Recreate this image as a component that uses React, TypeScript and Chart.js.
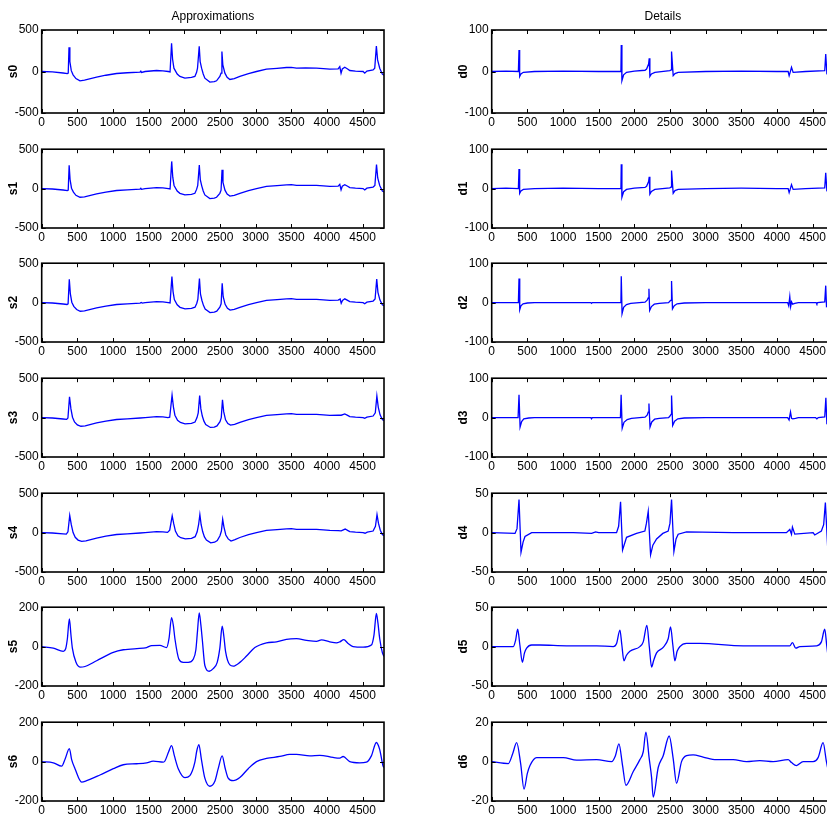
import React, { useEffect, useRef } from 'react';
import { Chart, registerables } from 'chart.js';

Chart.register(...registerables);

// ---------- data ----------
type Pt = [number, number];

const X_MAX = 4800;
const X_TICKS = [0, 500, 1000, 1500, 2000, 2500, 3000, 3500, 4000, 4500];

const TITLE_LEFT = 'Approximations';
const TITLE_RIGHT = 'Details';

const LEFT_LABELS = ['s0', 's1', 's2', 's3', 's4', 's5', 's6'];
const RIGHT_LABELS = ['d0', 'd1', 'd2', 'd3', 'd4', 'd5', 'd6'];

const LEFT_LIMITS = [500, 500, 500, 500, 500, 200, 200];
const RIGHT_LIMITS = [100, 100, 100, 100, 50, 50, 20];

const s0: Pt[] = [[0,0],[150,-5],[300,-18],[360,-25],[372,-20],[383,292],[395,120],[415,10],[440,-40],[480,-85],[537,-112],[600,-105],[770,-68],[900,-45],[1050,-24],[1200,-15],[1378,-8],[1390,5],[1400,-12],[1450,0],[1611,12],[1700,8],[1775,0],[1800,-5],[1821,340],[1835,150],[1854,40],[1900,-30],[1938,-60],[2008,-80],[2100,-72],[2148,-60],[2172,-10],[2185,40],[2209,304],[2222,120],[2242,40],[2265,-30],[2288,-80],[2358,-128],[2420,-122],[2452,-112],[2498,-60],[2515,-20],[2527,240],[2540,80],[2569,-20],[2600,-70],[2639,-96],[2700,-85],[2779,-60],[2900,-25],[3012,0],[3152,28],[3300,38],[3433,48],[3500,50],[3573,40],[3700,42],[3853,40],[3950,35],[4040,28],[4157,32],[4180,60],[4198,-20],[4215,30],[4250,52],[4290,30],[4320,12],[4400,5],[4507,0],[4530,-20],[4560,5],[4647,20],[4670,40],[4693,308],[4710,140],[4740,40],[4777,-32],[4800,-45]];

const s1: Pt[] = [[0,0],[150,-5],[300,-18],[360,-25],[372,-18],[385,295],[398,115],[418,5],[445,-45],[480,-85],[537,-110],[600,-104],[770,-68],[900,-45],[1050,-24],[1200,-15],[1378,-8],[1390,4],[1400,-10],[1450,0],[1611,12],[1700,8],[1775,0],[1800,-5],[1823,345],[1838,145],[1856,40],[1900,-30],[1938,-60],[2008,-80],[2100,-72],[2148,-60],[2172,-10],[2188,40],[2210,300],[2224,115],[2244,35],[2265,-30],[2288,-80],[2358,-126],[2420,-120],[2452,-110],[2498,-60],[2515,-20],[2529,240],[2542,78],[2570,-20],[2600,-70],[2639,-95],[2700,-85],[2779,-60],[2900,-25],[3012,0],[3152,28],[3300,38],[3433,48],[3500,50],[3573,40],[3700,42],[3853,40],[3950,35],[4040,28],[4157,32],[4180,55],[4198,-15],[4215,30],[4250,50],[4290,30],[4320,12],[4400,5],[4507,0],[4530,-18],[4560,5],[4647,20],[4672,40],[4695,305],[4712,135],[4740,40],[4777,-30],[4800,-42]];

const s2: Pt[] = [[0,0],[150,-5],[300,-18],[355,-24],[370,-15],[387,295],[402,110],[422,5],[450,-48],[490,-88],[540,-110],[600,-104],[770,-68],[900,-45],[1050,-24],[1200,-15],[1380,-6],[1395,2],[1410,-6],[1450,0],[1611,12],[1700,8],[1775,0],[1800,-4],[1826,330],[1842,140],[1860,38],[1900,-28],[1940,-60],[2010,-80],[2100,-72],[2150,-58],[2175,-8],[2190,45],[2212,305],[2226,110],[2246,30],[2268,-35],[2292,-82],[2360,-126],[2420,-120],[2455,-108],[2498,-58],[2516,-15],[2531,245],[2545,75],[2572,-22],[2605,-72],[2642,-95],[2700,-86],[2779,-60],[2900,-25],[3012,0],[3152,28],[3300,38],[3433,48],[3500,50],[3573,40],[3700,42],[3853,40],[3950,35],[4040,28],[4157,32],[4185,45],[4200,-8],[4218,28],[4250,48],[4290,28],[4320,12],[4400,5],[4507,0],[4530,-15],[4560,5],[4647,20],[4675,45],[4698,300],[4715,130],[4742,35],[4777,-28],[4800,-40]];

const s3: Pt[] = [[0,0],[150,-5],[300,-18],[350,-22],[368,-5],[390,265],[410,110],[432,5],[460,-55],[500,-92],[550,-110],[610,-104],[770,-68],[900,-45],[1050,-24],[1200,-15],[1380,-5],[1450,0],[1611,12],[1700,8],[1770,0],[1795,5],[1828,285],[1848,130],[1868,30],[1905,-35],[1945,-62],[2010,-80],[2100,-72],[2150,-56],[2178,0],[2195,60],[2215,280],[2232,110],[2252,20],[2275,-45],[2300,-88],[2365,-125],[2420,-120],[2458,-105],[2500,-52],[2518,0],[2535,225],[2552,75],[2578,-28],[2610,-75],[2648,-96],[2705,-86],[2779,-60],[2900,-25],[3012,0],[3152,28],[3300,38],[3433,48],[3500,50],[3573,40],[3700,42],[3853,40],[3950,35],[4040,28],[4157,32],[4200,30],[4250,46],[4290,28],[4320,12],[4400,5],[4507,0],[4530,-10],[4560,5],[4647,20],[4678,60],[4700,275],[4720,130],[4745,35],[4777,-25],[4800,-38]];

const s4: Pt[] = [[0,0],[150,-5],[300,-16],[345,-20],[368,10],[393,218],[415,100],[440,0],[470,-60],[510,-95],[560,-112],[620,-104],[770,-70],[900,-45],[1050,-24],[1200,-15],[1380,-5],[1450,0],[1611,12],[1700,8],[1765,2],[1795,30],[1830,212],[1852,110],[1875,20],[1910,-40],[1950,-65],[2015,-80],[2100,-72],[2152,-52],[2180,10],[2200,100],[2218,228],[2236,100],[2258,10],[2282,-55],[2310,-95],[2370,-130],[2425,-122],[2462,-100],[2500,-40],[2520,20],[2538,168],[2556,70],[2582,-30],[2615,-80],[2655,-108],[2710,-90],[2779,-62],[2900,-25],[3012,0],[3152,28],[3300,38],[3433,48],[3500,50],[3573,40],[3700,42],[3853,40],[3950,35],[4040,28],[4157,25],[4200,22],[4255,45],[4295,25],[4320,12],[4400,5],[4507,0],[4535,-8],[4565,5],[4647,20],[4680,80],[4702,228],[4722,120],[4748,30],[4777,-25],[4800,-38]];

const s5: Pt[] = [[0,0],[163,-8],[303,-24],[336,-11],[360,40],[388,141],[410,60],[430,-8],[481,-80],[537,-104],[607,-101],[770,-72],[1004,-29],[1144,-16],[1424,-8],[1471,-5],[1541,5],[1658,6],[1751,-5],[1785,40],[1821,147],[1845,110],[1868,40],[1924,-64],[1985,-80],[2055,-80],[2125,-64],[2162,-16],[2185,80],[2209,171],[2232,110],[2251,40],[2288,-96],[2349,-125],[2405,-112],[2461,-80],[2498,-8],[2531,104],[2555,50],[2578,-24],[2639,-93],[2685,-99],[2779,-80],[2872,-48],[2989,-5],[3152,19],[3292,24],[3432,37],[3573,40],[3713,32],[3853,27],[3923,34],[4040,24],[4133,19],[4180,24],[4236,35],[4296,16],[4366,0],[4507,-3],[4623,8],[4660,60],[4693,168],[4715,120],[4740,40],[4778,-32],[4800,-50]];

const s6: Pt[] = [[0,0],[163,-6],[280,-23],[330,15],[388,66],[420,10],[467,-36],[560,-104],[630,-97],[817,-68],[1004,-36],[1144,-16],[1331,-11],[1471,-6],[1564,2],[1705,-3],[1728,3],[1780,50],[1821,81],[1860,30],[1915,-36],[2008,-81],[2078,-71],[2148,-3],[2175,55],[2204,86],[2240,10],[2288,-84],[2358,-125],[2428,-100],[2475,-36],[2531,29],[2570,-30],[2615,-84],[2685,-97],[2779,-81],[2896,-36],[3012,0],[3152,16],[3339,26],[3479,37],[3573,37],[3760,29],[3900,32],[4087,21],[4180,18],[4227,26],[4320,0],[4460,-6],[4553,-3],[4623,29],[4693,97],[4740,61],[4787,-23],[4800,-30]];

const d0: Pt[] = [[0,0],[200,1],[374,0],[383,52],[392,-12],[410,-6],[444,-2],[600,0],[1000,1],[1500,0],[1812,0],[1817,64],[1826,-22],[1850,-8],[1891,-2],[2000,1],[2150,3],[2172,6],[2200,18],[2209,32],[2218,-12],[2240,-6],[2288,-2],[2498,2],[2517,4],[2522,48],[2545,-10],[2570,-5],[2615,-2],[3000,0],[3500,1],[4000,0],[4157,0],[4171,-10],[4185,-2],[4204,10],[4227,-2],[4400,0],[4670,2],[4684,42],[4700,-5],[4800,0]];

const d1: Pt[] = [[0,0],[200,1],[374,0],[383,50],[392,-12],[410,-6],[444,-2],[600,0],[1000,1],[1500,0],[1812,0],[1817,62],[1826,-22],[1850,-8],[1891,-2],[2000,1],[2150,3],[2172,6],[2200,18],[2209,30],[2218,-14],[2240,-7],[2288,-2],[2498,2],[2517,4],[2522,46],[2545,-12],[2570,-5],[2615,-2],[3000,0],[3500,1],[4000,0],[4157,0],[4171,-10],[4185,-2],[4204,10],[4227,-2],[4400,0],[4670,2],[4684,40],[4700,-5],[4800,0]];

const d2: Pt[] = [[0,0],[374,0],[383,61],[393,-18],[410,-8],[440,-3],[500,-1],[600,0],[1390,0],[1400,-2],[1410,0],[1812,0],[1817,67],[1828,-28],[1850,-12],[1890,-5],[1950,-2],[2150,1],[2180,6],[2195,12],[2205,35],[2215,-20],[2240,-10],[2280,-4],[2350,-2],[2480,0],[2500,4],[2515,6],[2522,55],[2535,-16],[2560,-8],[2600,-3],[2700,-1],[3000,0],[3600,0],[4150,0],[4165,-8],[4180,15],[4192,-10],[4205,2],[4220,-4],[4250,-2],[4300,0],[4550,0],[4560,-3],[4570,0],[4670,2],[4684,43],[4695,-10],[4800,-5]];

const d3: Pt[] = [[0,0],[370,0],[383,58],[398,-24],[420,-10],[450,-3],[520,-1],[600,0],[1390,0],[1400,-3],[1410,0],[1805,0],[1815,58],[1830,-27],[1855,-12],[1900,-5],[1960,-2],[2150,1],[2180,6],[2195,14],[2205,36],[2220,-24],[2245,-11],[2285,-4],[2350,-2],[2480,0],[2500,4],[2515,8],[2522,56],[2538,-20],[2565,-9],[2610,-3],[2700,-1],[3000,0],[3600,0],[4150,0],[4170,-6],[4190,14],[4205,-2],[4220,-3],[4260,-2],[4300,0],[4540,0],[4560,-3],[4580,0],[4670,2],[4686,50],[4700,-15],[4800,-5]];

const d4: Pt[] = [[0,0],[327,-1],[355,5],[383,42],[411,-25],[440,-12],[467,-5],[560,0],[1144,0],[1401,-1],[1457,1],[1500,0],[1751,0],[1780,8],[1807,39],[1835,-22],[1891,-6],[2031,-1],[2148,2],[2170,12],[2195,27],[2228,-28],[2260,-16],[2312,-8],[2400,-1],[2475,2],[2500,12],[2522,42],[2555,-24],[2585,-8],[2615,-2],[2732,1],[3386,0],[4133,0],[4180,4],[4204,-2],[4217,7],[4250,-2],[4507,0],[4530,-3],[4623,2],[4655,10],[4679,38],[4715,-25],[4760,-8],[4800,0]];

const d5: Pt[] = [[0,0],[303,0],[335,8],[364,22],[395,2],[430,-20],[460,-8],[490,-2],[560,2],[677,2],[1051,1],[1471,1],[1705,0],[1751,4],[1798,21],[1825,2],[1854,-18],[1890,-11],[1938,-6],[2078,0],[2125,6],[2176,27],[2210,0],[2242,-26],[2270,-18],[2312,-8],[2405,-1],[2475,10],[2508,25],[2540,2],[2569,-18],[2600,-6],[2639,0],[2732,4],[2919,4],[3526,1],[4087,1],[4180,1],[4217,5],[4264,-2],[4320,0],[4553,1],[4623,6],[4670,22],[4700,0],[4730,-18],[4800,0]];

const d6: Pt[] = [[0,0],[233,-1],[294,4],[350,9.6],[406,-1],[453,-14],[500,-6],[537,-2],[630,2],[1004,2],[1191,0.7],[1471,1],[1681,0],[1735,3],[1784,9],[1835,-2],[1882,-12],[1985,-5],[2078,1],[2125,5],[2162,15],[2209,1.5],[2242,-8],[2265,-18],[2335,-3],[2405,3],[2489,13],[2545,1.5],[2592,-11],[2662,0],[2732,3],[2825,3.4],[2965,2.3],[3152,1],[3386,1],[3573,0],[3760,0.5],[3946,0],[4157,1],[4204,-0.5],[4274,-2],[4367,0],[4507,0],[4577,2],[4647,9.6],[4694,0],[4750,-8],[4800,-5]];

const LEFT_SERIES = [s0, s1, s2, s3, s4, s5, s6];
const RIGHT_SERIES = [d0, d1, d2, d3, d4, d5, d6];
const LEFT_SMOOTH = [false, false, false, false, false, true, true];
const RIGHT_SMOOTH = [false, false, false, false, false, true, true];

// ---------- layout ----------
const ROW_TOPS = [30, 145, 259, 374, 489, 603, 718];
const AREA_H = 83;
const X_AXIS_H = 18;
const Y_AXIS_W = 41.7;
const CANVAS_W = 390;
const COL_LEFTS = [0, 450];
const FONT_FAMILY = '"Liberation Sans Narrow", "Arial Narrow", "Liberation Sans", Arial, sans-serif';

const framePlugin = {
  id: 'matlabFrame',
  afterDatasetsDraw(chart: any) {
    const { ctx, chartArea: a, scales } = chart;
    ctx.save();
    ctx.strokeStyle = '#000';
    ctx.lineWidth = 1;
    const xs = scales.x;
    xs.ticks.forEach((t: any) => {
      const px = Math.round(xs.getPixelForValue(t.value)) + 0.5;
      ctx.beginPath();
      ctx.moveTo(px, a.bottom);
      ctx.lineTo(px, a.bottom - 4);
      ctx.moveTo(px, a.top);
      ctx.lineTo(px, a.top + 4);
      ctx.stroke();
    });
    const ys = scales.y;
    ys.ticks.forEach((t: any) => {
      const py = Math.round(ys.getPixelForValue(t.value)) + 0.5;
      ctx.beginPath();
      ctx.moveTo(a.left, py);
      ctx.lineTo(a.left + 4, py);
      ctx.moveTo(a.right, py);
      ctx.lineTo(a.right - 4, py);
      ctx.stroke();
    });
    ctx.lineWidth = 1.6;
    ctx.strokeRect(a.left, a.top, a.right - a.left, a.bottom - a.top);
    ctx.restore();
  },
};

type PanelProps = {
  data: Pt[];
  label: string;
  limit: number;
  smooth: boolean;
  row: number;
  col: number;
  title?: string;
};

function Panel({ data, label, limit, smooth, row, col, title }: PanelProps) {
  const ref = useRef<HTMLCanvasElement | null>(null);
  const isTop = row === 0;
  const padTop = isTop ? 0 : 6;
  const canvasTop = isTop ? 0 : ROW_TOPS[row] - padTop;
  const titleH = isTop ? ROW_TOPS[0] : 0;
  const height = padTop + titleH + AREA_H + X_AXIS_H;
  const yTicks = [-limit, 0, limit];

  useEffect(() => {
    if (!ref.current) return;
    const chart = new Chart(ref.current, {
      type: 'line',
      data: {
        datasets: [
          {
            data: data.map(([x, y]) => ({ x, y })),
            borderColor: '#0000ff',
            borderWidth: 1.3,
            pointRadius: 0,
            fill: false,
            tension: smooth ? 0.4 : 0,
            cubicInterpolationMode: smooth ? 'monotone' : 'default',
          },
        ],
      },
      options: {
        responsive: false,
        animation: false,
        devicePixelRatio: 1,
        layout: { padding: { left: 0, right: 6, top: padTop, bottom: 0 } },
        plugins: {
          legend: { display: false },
          tooltip: { enabled: false },
          title: {
            display: !!title,
            text: title || '',
            fullSize: false,
            color: '#000',
            font: { family: FONT_FAMILY, size: 12, weight: 'normal' as any, lineHeight: 1.2 },
            padding: { top: 9, bottom: ROW_TOPS[0] - 9 - 14.4 },
          },
        },
        scales: {
          x: {
            type: 'linear',
            min: 0,
            max: X_MAX,
            grid: { display: false, drawTicks: false },
            border: { display: false },
            afterBuildTicks: (s: any) => {
              s.ticks = X_TICKS.map((v) => ({ value: v }));
            },
            ticks: {
              autoSkip: false,
              maxRotation: 0,
              padding: 2,
              color: '#000',
              font: { family: FONT_FAMILY, size: 12 },
              callback: (v: any) => String(v),
            },
            afterFit: (s: any) => {
              s.height = X_AXIS_H;
            },
          },
          y: {
            type: 'linear',
            min: -limit,
            max: limit,
            grid: { display: false, drawTicks: false },
            border: { display: false },
            afterBuildTicks: (s: any) => {
              s.ticks = yTicks.map((v) => ({ value: v }));
            },
            ticks: {
              autoSkip: false,
              padding: 3,
              color: '#000',
              font: { family: FONT_FAMILY, size: 12 },
              callback: (v: any) => String(v),
            },
            title: {
              display: true,
              text: label,
              color: '#000',
              font: { family: FONT_FAMILY, size: 12, weight: 'bold' as any },
              padding: { top: 6, bottom: 0 },
            },
            afterFit: (s: any) => {
              s.width = Y_AXIS_W;
            },
          },
        },
      },
      plugins: [framePlugin],
    } as any);
    return () => chart.destroy();
  }, []);

  return (
    <canvas
      ref={ref}
      width={CANVAS_W}
      height={height}
      style={{
        position: 'absolute',
        left: COL_LEFTS[col],
        top: canvasTop,
        width: CANVAS_W,
        height,
        display: 'block',
      }}
    />
  );
}

export default function App() {
  return (
    <div
      style={{
        position: 'fixed',
        left: 0,
        top: 0,
        width: 827,
        height: 818,
        overflow: 'hidden',
        background: '#fff',
      }}
    >
      {LEFT_SERIES.map((d, i) => (
        <Panel
          key={'l' + i}
          data={d}
          label={LEFT_LABELS[i]}
          limit={LEFT_LIMITS[i]}
          smooth={LEFT_SMOOTH[i]}
          row={i}
          col={0}
          title={i === 0 ? TITLE_LEFT : undefined}
        />
      ))}
      {RIGHT_SERIES.map((d, i) => (
        <Panel
          key={'r' + i}
          data={d}
          label={RIGHT_LABELS[i]}
          limit={RIGHT_LIMITS[i]}
          smooth={RIGHT_SMOOTH[i]}
          row={i}
          col={1}
          title={i === 0 ? TITLE_RIGHT : undefined}
        />
      ))}
    </div>
  );
}
